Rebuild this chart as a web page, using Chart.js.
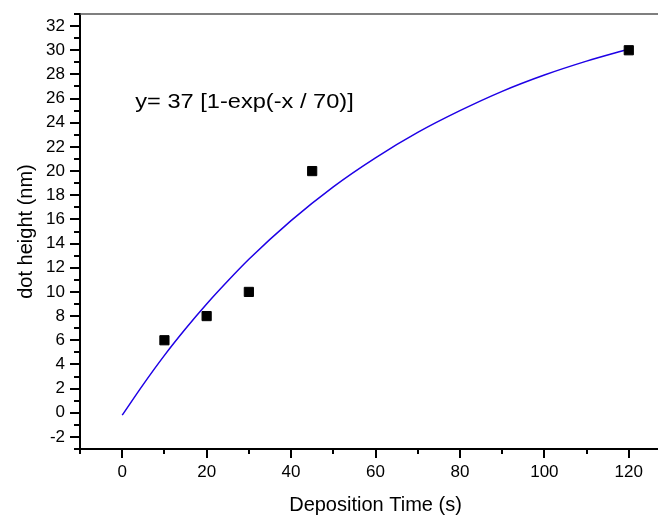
<!DOCTYPE html>
<html><head><meta charset="utf-8">
<style>
html,body{margin:0;padding:0;overflow:hidden;background:#fff;width:658px;height:515px}
#wrap{position:relative;width:680px;height:515px}
</style>
<script src="https://cdn.jsdelivr.net/npm/chart.js@4.4.1/dist/chart.umd.min.js"></script>
</head><body>
<div id="wrap"><canvas id="c" width="680" height="515"></canvas></div>
<script>
// measured points
const depositionTime = [10, 20, 30, 45, 120];
const dotHeight = [6, 8, 10, 20, 30];
// fitted curve
const fitX = [0, 5, 10, 15, 20, 25, 30, 40, 50, 60, 70, 80, 90, 100, 110, 120];
const fitY = [-0.2, 2.35, 4.75, 6.95, 9.0, 10.9, 12.7, 15.9, 18.7, 21.1, 23.2, 25.0, 26.6, 27.95, 29.1, 30.1];
// axis ticks
const xTicks = [0, 20, 40, 60, 80, 100, 120];
const xMinorTicks = [-10, 10, 30, 50, 70, 90, 110, 130];
const yTicks = [-2, 0, 2, 4, 6, 8, 10, 12, 14, 16, 18, 20, 22, 24, 26, 28, 30, 32];
const yMinorTicks = [-3, -1, 1, 3, 5, 7, 9, 11, 13, 15, 17, 19, 21, 23, 25, 27, 29, 31, 33];
// texts
const fitLabel = 'y= 37 [1-exp(-x / 70)]';
const fitLabelAt = [3.1, 25.2];
const xTitle = 'Deposition Time (s)';
const yTitle = 'dot height (nm)';

const FONT = "'Liberation Sans', Arial, sans-serif";

const extras = {
  id: 'extras',
  afterDraw(chart) {
    const {ctx, chartArea: a, scales: {x, y}} = chart;
    ctx.save();
    ctx.strokeStyle = '#000';
    ctx.lineWidth = 2;
    ctx.beginPath();
    xTicks.forEach(v => { const p = Math.round(x.getPixelForValue(v)); ctx.moveTo(p, a.bottom); ctx.lineTo(p, a.bottom + 9); });
    xMinorTicks.forEach(v => { const p = Math.round(x.getPixelForValue(v)); ctx.moveTo(p, a.bottom); ctx.lineTo(p, a.bottom + 5); });
    yTicks.forEach(v => { const p = Math.round(y.getPixelForValue(v)); ctx.moveTo(a.left, p); ctx.lineTo(a.left - 10, p); });
    yMinorTicks.forEach(v => { const p = Math.round(y.getPixelForValue(v)); ctx.moveTo(a.left, p); ctx.lineTo(a.left - 6, p); });
    ctx.stroke();
    // top frame line
    ctx.strokeStyle = '#555';
    ctx.lineWidth = 1.5;
    ctx.beginPath();
    ctx.moveTo(a.left, a.top);
    ctx.lineTo(a.right, a.top);
    ctx.stroke();
    // fit equation
    ctx.fillStyle = '#000';
    ctx.font = '20px ' + FONT;
    ctx.textBaseline = 'alphabetic';
    ctx.textAlign = 'left';
    ctx.translate(x.getPixelForValue(fitLabelAt[0]), y.getPixelForValue(fitLabelAt[1]));
    ctx.scale(1.18, 1);
    ctx.fillText(fitLabel, 0, 0);
    ctx.restore();
  }
};

new Chart(document.getElementById('c'), {
  data: {
    datasets: [
      {
        type: 'scatter',
        data: depositionTime.map((t, i) => ({x: t, y: dotHeight[i]})),
        pointStyle: 'rect',
        pointRadius: 6.5,
        pointBackgroundColor: '#000',
        pointBorderColor: '#000',
        pointBorderWidth: 1,
        showLine: false
      },
      {
        type: 'line',
        data: fitX.map((t, i) => ({x: t, y: fitY[i]})),
        borderColor: 'rgb(30,0,230)',
        borderWidth: 1.5,
        pointRadius: 0,
        fill: false,
        cubicInterpolationMode: 'monotone'
      }
    ]
  },
  plugins: [extras],
  options: {
    responsive: false,
    animation: false,
    events: [],
    layout: {padding: {top: 14, right: 9, left: 0, bottom: 0}},
    plugins: {legend: {display: false}, tooltip: {enabled: false}},
    scales: {
      x: {
        type: 'linear',
        min: -10, max: 130,
        afterBuildTicks: s => { s.ticks = xTicks.map(v => ({value: v})); },
        afterFit: s => { s.height = 66; s.paddingLeft = 0; s.paddingRight = 0; },
        grid: {display: false, drawTicks: false},
        border: {display: true, color: '#000', width: 2},
        ticks: {autoSkip: false, maxRotation: 0, padding: 13, color: '#000', font: {family: FONT, size: 17}},
        title: {display: true, text: xTitle, color: '#000', font: {family: FONT, size: 20, lineHeight: 1}, padding: {top: 0, bottom: 0}}
      },
      y: {
        type: 'linear',
        min: -3, max: 33,
        afterBuildTicks: s => { s.ticks = yTicks.map(v => ({value: v})); },
        afterFit: s => { s.width = 80; s.paddingTop = 0; s.paddingBottom = 0; },
        grid: {display: false, drawTicks: false},
        border: {display: true, color: '#000', width: 2},
        ticks: {autoSkip: false, padding: 15, color: '#000', font: {family: FONT, size: 17}},
        title: {display: true, text: yTitle, color: '#000', font: {family: FONT, size: 20, lineHeight: 1}, padding: {top: 16, bottom: 0}}
      }
    }
  }
});
</script>
</body></html>
